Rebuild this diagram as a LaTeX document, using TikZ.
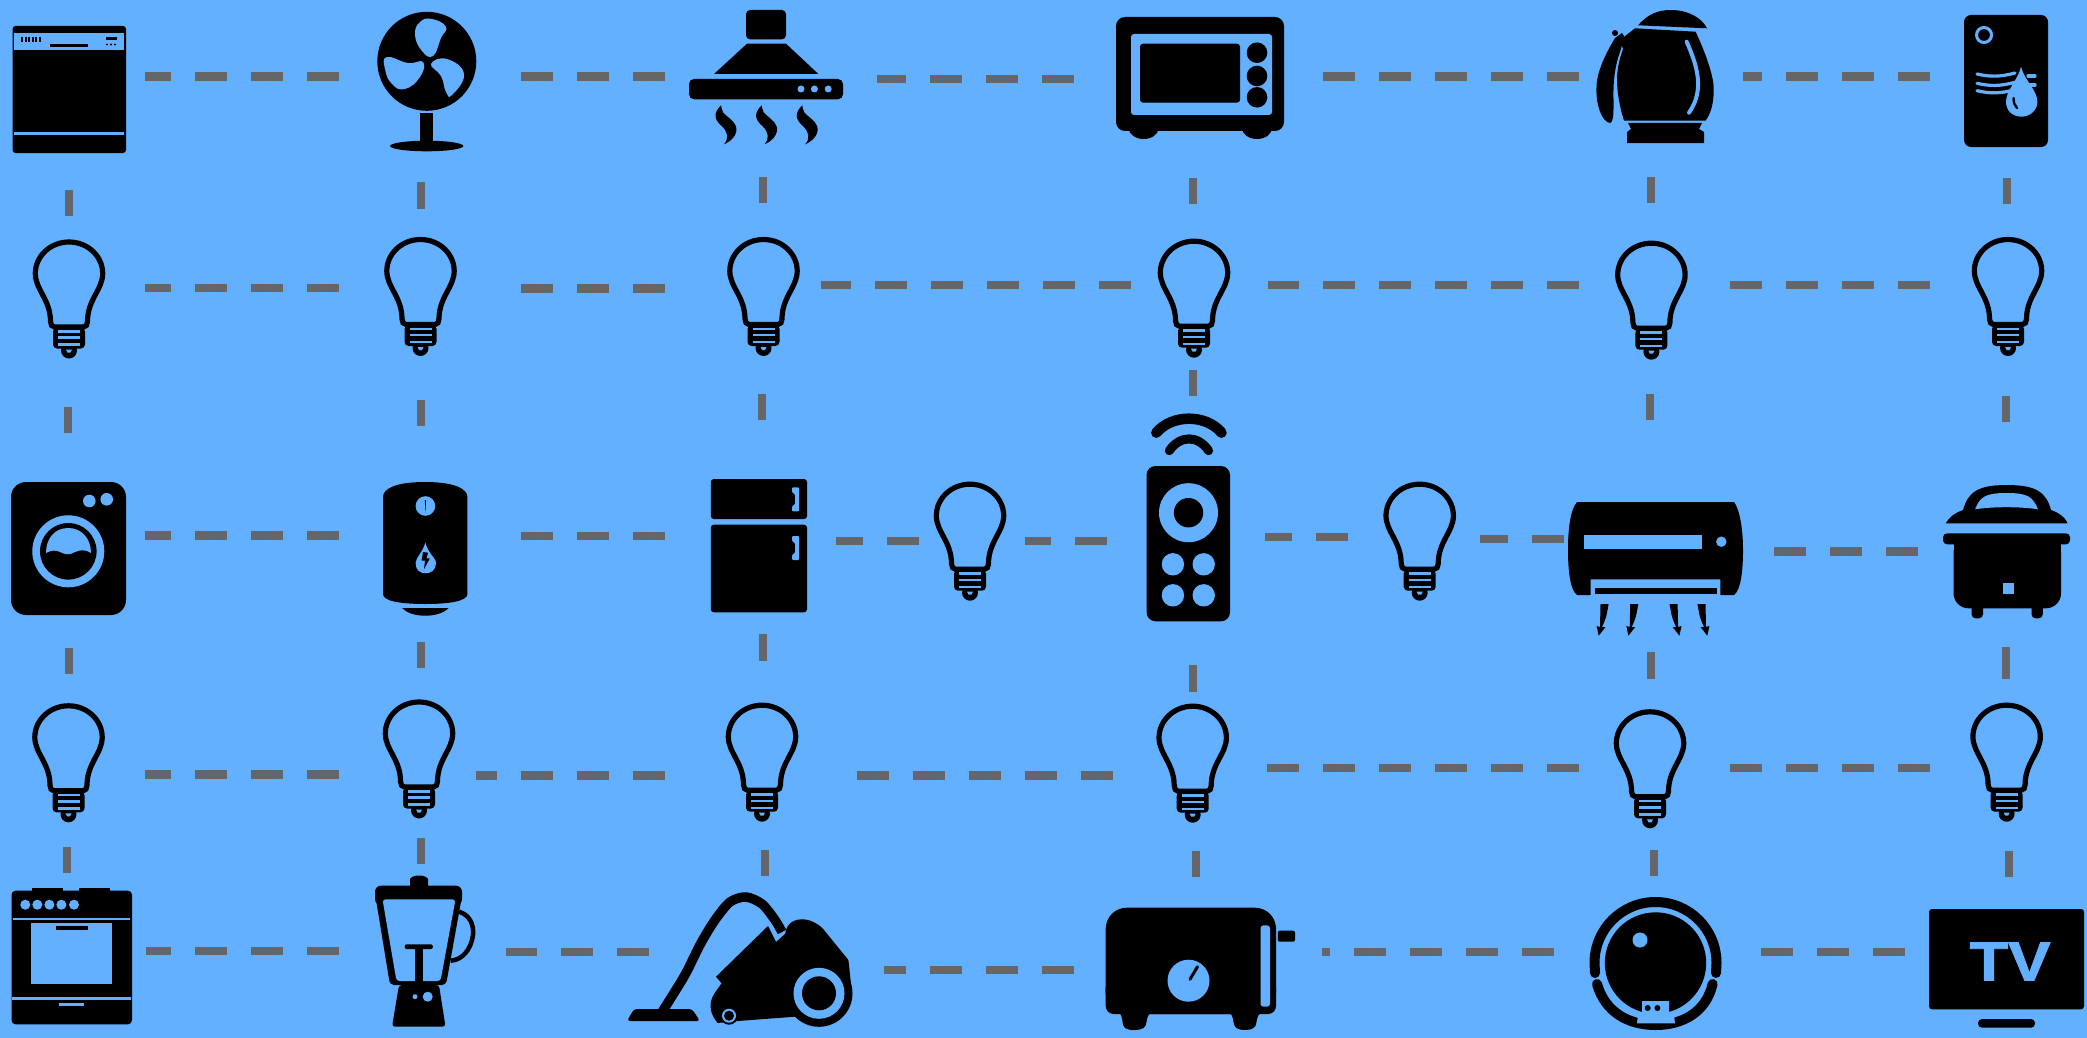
\documentclass[tikz,border=0pt]{standalone}
\usepackage{fontspec}
\setmainfont{Liberation Sans}[BoldFeatures={FakeBold=1.6}]
\usetikzlibrary{fit}
\definecolor{skyfill}{HTML}{62B0FF}
\definecolor{wiregray}{HTML}{666669}

\begin{document}
\begin{tikzpicture}[x=1pt, y=-1pt,
 hub/.style={inner sep=0pt, outer sep=0pt},
 wire/.style={wiregray, line width=8.5pt, dash pattern=on 32pt off 24pt},
 cut/.style={fill=skyfill},
 pics/bulb/.style={code={
  \draw[line width=5.2pt] (0,2.5) .. controls (19,2.5) and (33.7,17) .. (33.7,34) .. controls (33.7,50) and (18.5,60) .. (18.5,82) .. controls (18.5,85) and (17,87.5) .. (14.5,87.5) -- (-14.5,87.5) .. controls (-17,87.5) and (-18.5,85) .. (-18.5,82) .. controls (-18.5,60) and (-33.7,50) .. (-33.7,34) .. controls (-33.7,17) and (-19,2.5) .. (0,2.5) -- cycle;
  \fill[rounded corners=4pt] (-16,88) -- (16,88) -- (16,109) -- (-16,109) -- cycle;
  \fill (0,111) circle[radius=8];
  \fill[cut] (-11,90.5) rectangle (11,93);
  \fill[cut] (-11,96.8) rectangle (11,99.3);
  \fill[cut] (-11,103.8) rectangle (11,106.3);
  \fill[cut] (-3,110) -- (3,110) -- (1.5,113) -- (-1.5,113) -- cycle;
 }},
 pics/fume/.style={code={
  \fill (0,0) .. controls (-8,8) and (-7,14) .. (1,21) .. controls (7,27) and (8,33) .. (3,39) .. controls (12,35) and (17,28) .. (15,21) .. controls (13,15) and (5,11) .. (2,7) .. controls (1,4) and (0,2) .. (0,0) -- cycle;
 }},
 pics/gust/.style={code={
  \fill (-8.1,0) -- (-8.6,23) -- (-12,22) -- (-9.9,31.7) -- (-3.1,23) -- (-6.6,23) .. controls (-2.5,14) .. (0,0) -- cycle;
 }}]

 \fill[skyfill] (0,0) rectangle (2087,1038);
 \useasboundingbox (0,0) rectangle (2087,1038);

 % --- Boxes the wires stop at ---
 \foreach \n/\xa/\ya/\xb/\yb in {dish/12/26/145/190, fan/339/10/521/182, hood/665/8/877/177, oven/1074/10/1323/178, kettle/1579/8/1742.5/177, heater/1930/10/2060/178,
  bulbA/25/216/145/407, bulbB/339/209/521/400, bulbC/665/203/821/394, bulbD/1131/204/1268/370, bulbE/1579/203/1730/394, bulbF/1930/204/2060/396,
  washer/11/433/145/648, tank/339/426/521/642, fridge/665/420/836/634, bulbG/919/480/1025/600, remote/1107/396/1265/665, bulbH/1348/480/1480/600, aircon/1563.5/420/1773.6/652, cooker/1918/422/2075/647,
  bulbI/25/674/145/847, bulbJ/339/668/476/838, bulbK/665/661/857/850, bulbL/1113/692/1267/851, bulbM/1579/679/1730/850, bulbN/1930/679/2060/851,
  stove/11/873/146/1030, blender/339/864/506/1030, vacuum/649/876/884/1030, toaster/1074/877/1322/1032, robot/1554/876/1761/1032, telly/1905/877/2087/1030}
  \node[hub, fit={(\xa,\ya) (\xb,\yb)}] (\n) {};

 % --- Wires ---
 \foreach \a/\b/\yy in {fan/dish/76.5, hood/fan/76.7, oven/hood/79, kettle/oven/76.7, heater/kettle/76.7,
  bulbB/bulbA/288, bulbC/bulbB/288.5, bulbD/bulbC/285, bulbE/bulbD/285, bulbF/bulbE/285,
  tank/washer/535.7, fridge/tank/536, bulbG/fridge/541, remote/bulbG/541, bulbH/remote/537, aircon/bulbH/539, cooker/aircon/551.7,
  bulbJ/bulbI/774.7, bulbK/bulbJ/775.3, bulbL/bulbK/775.3, bulbM/bulbL/768, bulbN/bulbM/768,
  blender/stove/951, vacuum/blender/952, toaster/vacuum/970, robot/toaster/952, telly/robot/952}
  \draw[wire] (\a.west |- 0,\yy) -- (\b.east |- 0,\yy);
 \foreach \a/\b/\xx in {dish/bulbA/69, fan/bulbB/421, hood/bulbC/762.6, oven/bulbD/1193, kettle/bulbE/1651, heater/bulbF/2007,
  bulbA/washer/68, bulbB/tank/420.5, bulbC/fridge/762, bulbD/remote/1193, bulbE/aircon/1650, bulbF/cooker/2006,
  washer/bulbI/69, tank/bulbJ/421, fridge/bulbK/762.6, remote/bulbL/1193, aircon/bulbM/1651, cooker/bulbN/2006,
  bulbI/stove/67, bulbJ/blender/421, bulbK/vacuum/765, bulbL/toaster/1195.6, bulbM/robot/1653.5, bulbN/telly/2008.7}
  \draw[wire, line width=8pt] (\a.south -| \xx,0) -- (\b.north -| \xx,0);

 % --- Bulbs ---
 \foreach \xx/\yy in {69/239.5, 420.5/237, 763.5/237, 1194/238.7, 1651.4/240.7, 2008/237, 970/481.7, 1419.7/481.7, 68.5/703.3, 419/699.5, 762/702.7, 1192.7/703.7, 1650/709.3, 2006.6/702.7}
  \pic at (\xx,\yy) {bulb};

 % --- Top row ---
 \fill[rounded corners=3pt] (12.5,26) rectangle (126,153);
 \fill[cut] (14.3,33.3) rectangle (124,50);
 \fill[cut] (14.3,131.7) rectangle (124,134.7);
 \foreach \xx in {21,24.5,28,31.5,35,38.5} \fill (\xx,37.3) rectangle ++(2.2,4.7);
 \fill (50,44) rectangle (87.5,46.7);
 \fill (106,37) rectangle (116.5,40.3);
 \foreach \xx in {107,111,115} \fill (\xx,44.5) circle[radius=1.2];

 \fill (426.8,61.3) circle[radius=49.5];
 \fill[cut] plot[smooth cycle, tension=0.8] coordinates {(415,35) (420,22) (432,19) (446,27) (441,38) (433,56) (422,51)};
 \fill[cut] plot[smooth cycle, tension=0.8] coordinates {(387,57) (408,63) (423,62) (420,77) (405,89) (392,84) (385,69)};
 \fill[cut] plot[smooth cycle, tension=0.8] coordinates {(431,64) (447,59) (464,74) (452,95) (446,92) (441,76)};
 \fill (420,113) rectangle (433,143);
 \fill (426.7,146) ellipse[x radius=36.7, y radius=5.3];

 \fill[rounded corners=4pt] (746,10) -- (786,10) -- (786,39.3) -- (746,39.3) -- cycle;
 \fill (747,43.7) -- (786,43.7) -- (818.4,74) -- (714,74) -- cycle;
 \fill[rounded corners=5pt] (689,79) rectangle (843,99.3);
 \foreach \xx in {801,814.4,828.2} \fill[cut] (\xx,89) circle[radius=3.5];
 \foreach \xx in {721,761.6,802.2} \pic at (\xx,105.3) {fume};

 \fill[rounded corners=9pt] (1116,17) rectangle (1284,131);
 \fill (1143.6,128) ellipse[x radius=15, y radius=11];
 \fill (1257,128) ellipse[x radius=15, y radius=11];
 \fill[cut, rounded corners=3pt] (1131,34) rectangle (1272,115);
 \fill[rounded corners=3pt] (1140,43.7) rectangle (1240,102.7);
 \foreach \yy in {52.7,76,97.3} \fill (1257,\yy) circle[radius=10.3];

 \fill (1638,25.3) .. controls (1648,14) and (1658,10) .. (1671,10) .. controls (1688,10) and (1702,18) .. (1707,28.3) -- cycle;
 \fill (1635,28.3) -- (1695.6,31.7) .. controls (1708,58) and (1714,80) .. (1713.6,88) .. controls (1714,100) and (1712,112) .. (1705.5,120.7) -- (1624,120.7) .. controls (1619,105) and (1617,90) .. (1617,80) .. controls (1617,70) and (1619,60) .. (1623,49) -- (1620,40) -- cycle;
 \fill (1615,38) .. controls (1603,58) and (1596,75) .. (1596.4,90) .. controls (1596,105) and (1602,122) .. (1610,123) .. controls (1614,122) and (1613.5,110) .. (1613.5,100) .. controls (1613,80) and (1615,65) .. (1621,49) -- (1624,36) -- (1622,33) -- cycle;
 \fill (1615,33) circle[radius=3];
 \draw[skyfill, line width=4pt, line cap=round] (1686.6,41.7) .. controls (1697,65) and (1705,90) .. (1689,112.7);
 \fill (1628,123) -- (1702,123) -- (1699,129) -- (1704,132) -- (1704,143) -- (1627,143) -- (1627,132) -- (1631,129) -- cycle;

 \fill[rounded corners=7pt] (1964,15) rectangle (2048,147);
 \draw[skyfill, line width=3pt] (1984,35) circle[radius=7.5];
 \foreach \yy in {74,83.3,90.7} \draw[skyfill, line width=3.2pt, line cap=round] (1977,\yy) .. controls (1990,\yy+3) and (2000,\yy+3) .. (2015,\yy-1);
 \foreach \yy in {76,85} \draw[skyfill, line width=3.2pt, line cap=round] (2028,\yy) -- (2035,\yy);
 \fill[cut] (2021,66.7) .. controls (2024,80) and (2037.4,90) .. (2037.4,102) .. controls (2037.4,110) and (2030,116.7) .. (2021.5,116.7) .. controls (2012,116.7) and (2006,110) .. (2006,102) .. controls (2006,90) and (2018,80) .. (2021,66.7) -- cycle;
 \draw[line width=2.4pt, line cap=round] (2013.5,98) .. controls (2013.5,103) and (2015,106) .. (2017,108);

 % --- Middle row ---
 \fill[rounded corners=15pt] (11,482) rectangle (126,615);
 \fill[cut] (89.3,501) circle[radius=6.3];
 \fill[cut] (106.7,499.3) circle[radius=6.3];
 \fill[cut] (68.3,551.3) circle[radius=36];
 \fill (68.3,551.3) circle[radius=28.3];
 \fill[cut] (46,553) .. controls (46,538) and (55,528) .. (68.3,528) .. controls (81,528) and (91,538) .. (91,553) .. controls (85,549) and (80,550) .. (75,552) .. controls (70,555) and (66,555) .. (60,552) .. controls (56,550) and (51,550) .. (46,553) -- cycle;

 \fill (383,497) .. controls (383,489) and (395,482) .. (425,482) .. controls (455,482) and (467.4,489) .. (467.4,497) -- (467.4,594) .. controls (467.4,601) and (450,604) .. (425,604) .. controls (400,604) and (383,601) .. (383,594) -- cycle;
 \fill (402,608) -- (448.6,608) .. controls (444,613) and (435,615.7) .. (425.4,615.7) .. controls (415,615.7) and (407,613) .. (402,608) -- cycle;
 \fill[cut] (425.4,506) circle[radius=9.8];
 \fill (424.8,500) -- (426,500) -- (425.4,512.7) -- cycle;
 \fill[cut] (425.4,542.3) .. controls (427,552) and (436,558) .. (436,563) .. controls (436,570) and (431,573.3) .. (425.6,573.3) .. controls (420,573.3) and (415.6,570) .. (415.6,563) .. controls (415.6,558) and (423,552) .. (425.4,542.3) -- cycle;
 \fill (423,552) -- (428,552.7) -- (426.5,558.3) -- (429.8,558.3) -- (424,569.3) -- (425,560.7) -- (421.5,560.7) -- cycle;

 \fill[rounded corners=3pt] (710.8,479) rectangle (807,519);
 \fill[rounded corners=3pt] (710.8,524.7) rectangle (807,612.3);
 \foreach \yy in {487.3,536} \fill[cut, rounded corners=1pt] (792,\yy) -- (799,\yy) -- (799,\yy+24) -- (792,\yy+24) -- (792,\yy+19) -- (795,\yy+17) -- (795,\yy+7) -- (792,\yy+5) -- cycle;

 \draw[line width=10.5pt, line cap=round] (1156.3,432.7) .. controls (1172,414) and (1206,414) .. (1221.5,432.7);
 \draw[line width=9pt, line cap=round] (1169.3,450.7) .. controls (1180,435) and (1198,435) .. (1208.6,450.7);
 \fill[rounded corners=9pt] (1146.5,466) rectangle (1230,621.3);
 \fill[cut] (1188.5,512.7) circle[radius=29.5];
 \fill (1188.5,512.7) circle[radius=14.7];
 \foreach \xx in {1172.9,1203.7} \foreach \yy in {564.3,595.3} \fill[cut] (\xx,\yy) circle[radius=11.2];

 \fill (1577,502) -- (1734,502) .. controls (1740,510) and (1743,530) .. (1743,550) .. controls (1743,570) and (1741,590) .. (1734,595) -- (1720.4,595) -- (1720.4,579.3) -- (1590.5,579.3) -- (1590.5,595) -- (1577,595) .. controls (1570,590) and (1568,570) .. (1568,550) .. controls (1568,530) and (1570,510) .. (1577,502) -- cycle;
 \fill[cut] (1583.8,534.7) rectangle (1702,549.3);
 \fill[cut] (1721.3,541.7) circle[radius=5.2];
 \fill (1595,587.7) rectangle (1717,594.3);
 \pic at (1608.6,604) {gust};
 \pic at (1638.3,604) {gust};
 \pic[xscale=-1] at (1669.5,604) {gust};
 \pic[xscale=-1] at (1697.4,604) {gust};

 \fill (1945.8,523.3) .. controls (1950,516) and (1955,513) .. (1963,510) .. controls (1968,492) and (1978,485) .. (2006.7,485) .. controls (2036,485) and (2046,492) .. (2051,510) .. controls (2059,513) and (2064,516) .. (2067.6,523.3) -- cycle;
 \fill[cut] (1975,509.3) .. controls (1980,497) and (1985,493) .. (2006.7,493) .. controls (2028,493) and (2033,497) .. (2038,509.3) .. controls (2020,506.5) and (1993,506.5) .. (1975,509.3) -- cycle;
 \fill[rounded corners=4pt] (1943,533.3) rectangle (2070,544.3);
 \fill[rounded corners=15pt] (1953.5,538) rectangle (2061,608.3);
 \fill (1953.5,538) rectangle (2061,560);
 \fill[cut] (2002.6,583.3) rectangle (2014,593.7);
 \fill[rounded corners=4pt] (1971.5,600) rectangle (1983,618.3);
 \fill[rounded corners=4pt] (2031.5,600) rectangle (2042.8,618.3);

 % --- Bottom row ---
 \fill (32,888.3) rectangle (63,895);
 \fill (79,888.3) rectangle (110,895);
 \fill[rounded corners=4pt] (11.5,890.7) rectangle (132,1024.3);
 \foreach \xx in {25.3,37.3,49.4,61.4,74} \fill[cut] (\xx,904.7) circle[radius=5];
 \fill[cut] (13,917.5) rectangle (130,919.5);
 \fill[cut] (31,922.7) rectangle (112,984);
 \fill (55.7,926.3) rectangle (87.8,930.3);
 \fill[cut] (12,997.2) rectangle (131,1000.2);
 \fill[cut] (59,1002.8) rectangle (84,1005.8);

 \fill[rounded corners=3pt] (410,890) -- (410,882) .. controls (410,878) and (414,875.7) .. (419,875.7) .. controls (424,875.7) and (428,878) .. (428,882) -- (428,890) -- cycle;
 \fill[rounded corners=6pt] (375,885.7) rectangle (462,905);
 \fill[rounded corners=4pt] (375.4,896) -- (462,896) -- (446,985) -- (390,985) -- cycle;
 \fill[cut, rounded corners=3pt] (382.5,899.3) -- (455.5,899.3) -- (440.5,981) -- (396.5,981) -- cycle;
 \draw[line width=4.5pt] (459,911.7) .. controls (470,915) and (474,925) .. (473,935) .. controls (471,950) and (462,960) .. (450.6,960.7);
 \fill (414.5,946) rectangle (423,985);
 \fill[rounded corners=2pt] (404.7,944.3) rectangle (432.8,949);
 \fill[rounded corners=3pt] (399,985) -- (439,985) -- (445.5,1026.7) -- (392,1026.7) -- cycle;
 \fill[cut] (415,996.7) circle[radius=2.5];
 \fill[cut] (427.7,996.7) circle[radius=5];

 \fill[rounded corners=3pt] (634,1009) -- (692,1009) -- (700,1021) -- (627,1021) -- cycle;
 \draw[line width=9.5pt] plot[smooth] coordinates {(662,1012) (674,993) (686,973) (701,943) (715,920) (730,902) (746,897) (762,904) (775,920) (782,932)};
 \fill (768,926) -- (776,942) -- (785,934) .. controls (787,922) and (795,919) .. (803.7,919.3) .. controls (812,920) and (820,925) .. (824,930) -- (848.4,960) -- (852,993) -- (819,1026) -- (795,1016.7) -- (737.7,1021) -- (717.6,1023) .. controls (711,1015) and (710,1008) .. (710.7,1003) .. controls (712,995) and (717,990) .. (721.6,983.3) -- (716,976.7) -- cycle;
 \fill (819,993.3) circle[radius=33.5];
 \fill[cut] (819,993.3) circle[radius=25.5];
 \fill (819,993.3) circle[radius=17];
 \fill (729,1015.7) circle[radius=9];
 \fill[cut] (729,1015.7) circle[radius=7];
 \fill (729,1015.7) circle[radius=5];

 \fill[rounded corners=21pt] (1105.7,907.7) rectangle (1276,1014);
 \fill (1105.7,960) rectangle (1276,1004);
 \fill[rounded corners=8pt] (1105.7,980) rectangle (1276,1014);
 \fill (1114,1010) .. controls (1122,1012) and (1122,1018) .. (1122.5,1022) .. controls (1123,1028) and (1126,1030) .. (1134,1030) .. controls (1142,1030) and (1146,1028) .. (1146.5,1022) .. controls (1147,1018) and (1148,1012) .. (1156,1010) -- cycle;
 \fill (1225,1010) .. controls (1232,1012) and (1233,1018) .. (1233.5,1022) .. controls (1234,1028) and (1238,1030) .. (1245,1030) .. controls (1252,1030) and (1256,1028) .. (1256.5,1022) .. controls (1257,1018) and (1258,1012) .. (1266,1010) -- cycle;
 \fill[cut, rounded corners=3pt] (1260.5,925.3) rectangle (1270,1006.7);
 \fill[rounded corners=2pt] (1277.8,930.7) rectangle (1295,941.7);
 \fill[cut] (1188.5,980.7) circle[radius=21];
 \draw[line width=3pt, line cap=round] (1197.5,966.7) -- (1190,979.3);

 \draw[line width=10pt, line cap=round] (1595,973) -- (1594.5,963) .. controls (1594.5,929) and (1622,902) .. (1655.5,902) .. controls (1689,902) and (1716.5,929) .. (1716.5,963) -- (1716,973);
 \draw[line width=10pt, line cap=round] (1597,984) .. controls (1605,1012) and (1628,1025) .. (1655.5,1025) .. controls (1683,1025) and (1706,1012) .. (1712.6,984);
 \fill (1655.5,963) circle[radius=50.7];
 \fill[cut] (1640,940) circle[radius=7.5];
 \fill[cut] (1642,1001) -- (1669,1001) -- (1669,1012.7) -- (1674,1015) -- (1675,1023.3) -- (1637,1023.3) -- (1638,1015) -- (1642,1012.7) -- cycle;
 \fill (1647.7,1008) circle[radius=3];
 \fill (1657.4,1008) circle[radius=3];

 \fill[rounded corners=3pt] (1929,909) rectangle (2084,1009.3);
 \fill[rounded corners=4pt] (1978,1019) rectangle (2035,1027.7);
 \node[hub, text=skyfill, font=\fontsize{55}{55}\selectfont\bfseries] (tvlabel) at (2010,961.5) {\scalebox{1.15}[1]{TV}};
\end{tikzpicture}
\end{document}
